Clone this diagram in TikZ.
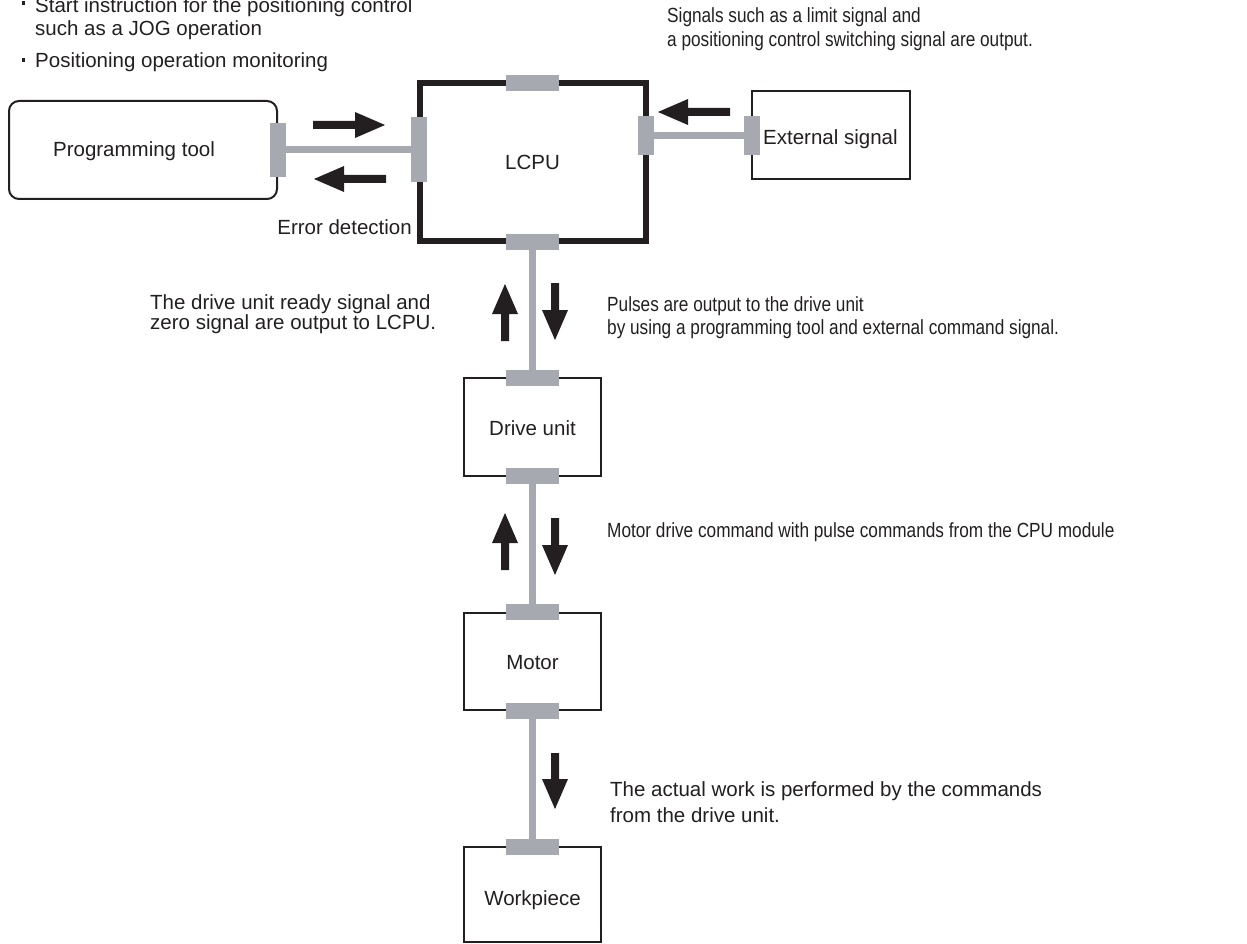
\documentclass[tikz,border=0pt]{standalone}
\usepackage{fontspec}
\setmainfont{Liberation Sans}
\newfontfamily\condfont[FakeStretch=0.84]{Liberation Sans}
\definecolor{ink}{HTML}{231F20}
\definecolor{portgray}{HTML}{A6AAB0}
\tikzset{
  lbl/.style={font=\fontsize{20.5}{24}\selectfont, text=ink, inner sep=0pt, anchor=base west},
  clbl/.style={lbl, font=\condfont\fontsize{20.5}{24}\selectfont},
  box/.style={draw=ink, line width=2pt, fill=white, inner sep=0pt},
  port/.style={fill=portgray, draw=none, inner sep=0pt, outer sep=0pt},
  conn/.style={draw=portgray, line width=7pt},
  pics/bigarrow/.style={code={\fill[ink] (0,-4) -- ({#1-30},-4) -- ({#1-30},-13) -- (#1,0) -- ({#1-30},13) -- ({#1-30},4) -- (0,4) -- cycle;}}
}
\begin{document}
\begin{tikzpicture}[x=1pt,y=-1pt]
\useasboundingbox (0,0) rectangle (1247,944);
% boxes
\node[box, rounded corners=10pt, minimum width=268pt, minimum height=98pt] (pt) at (143,150) {};
\node[box, line width=6pt, minimum width=226pt, minimum height=158pt] (lcpu) at (533,162) {};
\node[box, minimum width=158pt, minimum height=88pt] (ext) at (831,135) {};
\node[box, minimum width=137pt, minimum height=98pt] (drive) at (532.5,427) {};
\node[box, minimum width=137pt, minimum height=97pt] (motor) at (532.5,661.5) {};
\node[box, minimum width=137pt, minimum height=95pt] (work) at (532.5,894.5) {};
% ports
\node[port, minimum width=16pt, minimum height=54pt] (ptP) at (278,150) {};
\node[port, minimum width=16pt, minimum height=65pt] (lcL) at (419,150) {};
\node[port, minimum width=53pt, minimum height=16pt] (lcT) at (532.5,83) {};
\node[port, minimum width=53pt, minimum height=16pt] (lcB) at (532.5,242) {};
\node[port, minimum width=16pt, minimum height=39pt] (lcR) at (646,135.5) {};
\node[port, minimum width=16pt, minimum height=39pt] (exP) at (752,135.5) {};
\node[port, minimum width=53pt, minimum height=16pt] (drT) at (532.5,378) {};
\node[port, minimum width=53pt, minimum height=16pt] (drB) at (532.5,476) {};
\node[port, minimum width=53pt, minimum height=16pt] (moT) at (532.5,611.5) {};
\node[port, minimum width=53pt, minimum height=16pt] (moB) at (532.5,711) {};
\node[port, minimum width=53pt, minimum height=16pt] (woT) at (532.5,846.5) {};
% connectors
\draw[conn] (ptP.center) -- (lcL.center);
\draw[conn] (lcR.center) -- (exP.center);
\draw[conn] (lcB.center) -- (drT.center);
\draw[conn] (drB.center) -- (moT.center);
\draw[conn] (moB.center) -- (woT.center);
% arrows
\pic at (313,125) {bigarrow=72};
\pic[rotate=180] at (386,179) {bigarrow=72};
\pic[rotate=180] at (730,112) {bigarrow=72};
\pic[rotate=90] at (505,341) {bigarrow=57};
\pic[rotate=-90] at (555,283) {bigarrow=57};
\pic[rotate=90] at (505,570) {bigarrow=57};
\pic[rotate=-90] at (555,518) {bigarrow=57};
\pic[rotate=-90] at (555,753) {bigarrow=56};
% box labels
\node[lbl, anchor=base] (ptL) at (134,157) {Programming tool};
\node[lbl, anchor=base] (lcpuL) at (532.5,170) {LCPU};
\node[lbl] (extL) at (763,145) {External signal};
\node[lbl, anchor=base] (driveL) at (532.5,435) {Drive unit};
\node[lbl, anchor=base] (motorL) at (532.5,669) {Motor};
\node[lbl, anchor=base] (workL) at (532.5,905) {Workpiece};
% annotations
\fill[ink] (21.5,1) rectangle (25,5);
\fill[ink] (21.5,58) rectangle (25,62);
\node[lbl] (tl1) at (35,13) {Start instruction for the positioning control};
\node[lbl] (tl2) at (35,36) {such as a JOG operation};
\node[lbl] (tl3) at (35,68) {Positioning operation monitoring};
\node[clbl] (tr1) at (667,23) {Signals such as a limit signal and};
\node[clbl] (tr2) at (667,47) {a positioning control switching signal are output.};
\node[lbl, anchor=base east] (err) at (412,234) {Error detection};
\node[lbl] (dl1) at (150,309) {The drive unit ready signal and};
\node[lbl] (dl2) at (150,329) {zero signal are output to LCPU.};
\node[clbl] (pl1) at (607,311) {Pulses are output to the drive unit};
\node[clbl] (pl2) at (607,334) {by using a programming tool and external command signal.};
\node[clbl] (md) at (607,537) {Motor drive command with pulse commands from the CPU module};
\node[lbl] (aw1) at (610,796) {The actual work is performed by the commands};
\node[lbl] (aw2) at (610,822) {from the drive unit.};
\end{tikzpicture}
\end{document}
